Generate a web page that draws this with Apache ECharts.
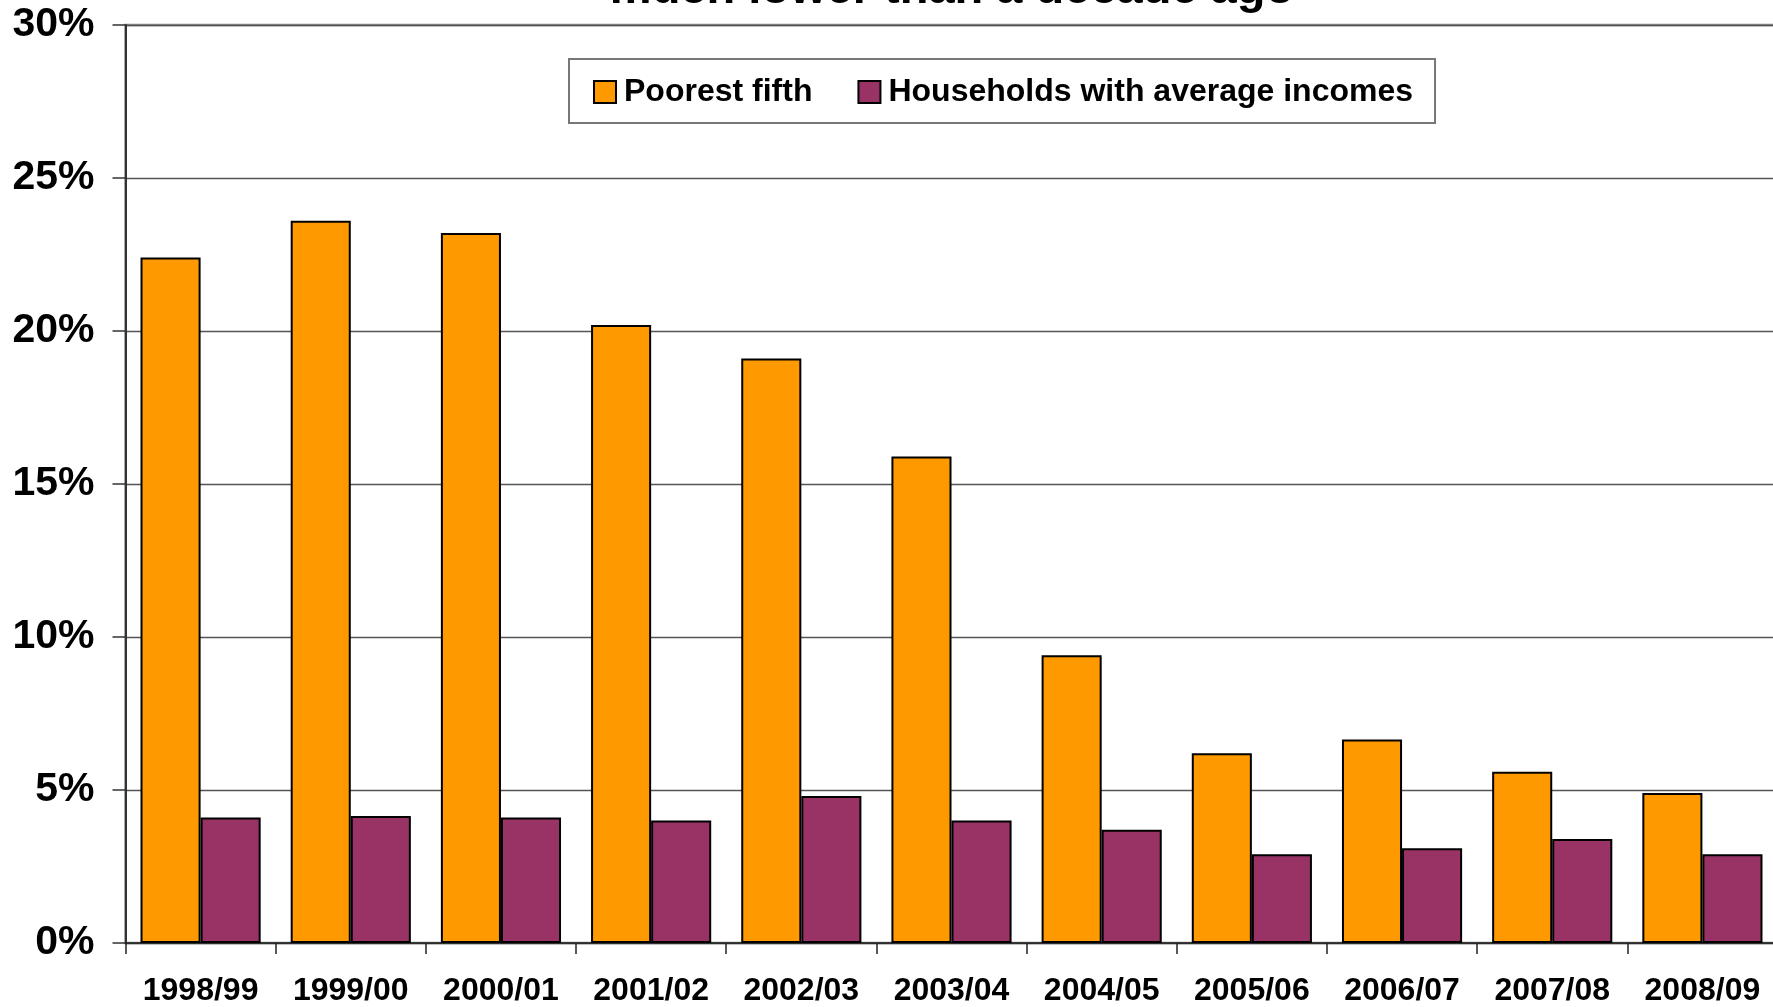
<!DOCTYPE html>
<html>
<head>
<meta charset="utf-8">
<script src="https://cdn.jsdelivr.net/npm/echarts@6/dist/echarts.min.js"></script>
<style>
html,body{margin:0;padding:0;background:#fff;}
#chart{width:1773px;height:1007px;}
</style>
</head>
<body>
<div id="chart"></div>
<script>
const categories = ['1998/99','1999/00','2000/01','2001/02','2002/03','2003/04','2004/05','2005/06','2006/07','2007/08','2008/09'];
const poorestFifth = [22.4, 23.6, 23.2, 20.2, 19.1, 15.9, 9.4, 6.2, 6.65, 5.6, 4.9];
const averageIncomes = [4.1, 4.15, 4.1, 4.0, 4.8, 4.0, 3.7, 2.9, 3.1, 3.4, 2.9];
const seriesNames = ['Poorest fifth', 'Households with average incomes'];
const titleText = 'much lower than a decade ago';

const FONT = '"Liberation Sans", Arial, sans-serif';
const chart = echarts.init(document.getElementById('chart'), null, {renderer: 'canvas'});
chart.setOption({
  animation: false,
  backgroundColor: '#ffffff',
  title: {
    text: titleText,
    left: 947,
    textAlign: 'center',
    top: -38,
    textStyle: {fontFamily: FONT, fontWeight: 'bold', fontSize: 47, color: '#000'}
  },
  legend: {
    data: seriesNames,
    left: 569,
    top: 59,
    padding: [17, 22, 15, 24],
    itemGap: 45,
    itemWidth: 22,
    itemHeight: 22,
    borderColor: '#777',
    borderWidth: 2,
    icon: 'rect',
    textStyle: {fontFamily: FONT, fontWeight: 'bold', fontSize: 32, color: '#000', padding: [3,0,0,3]}
  },
  grid: {
    left: 125.5,
    width: 1652,
    top: 25,
    bottom: 64,
    outerBoundsMode: 'none',
    containLabel: false,
    show: true,
    borderColor: '#8a8a8a',
    borderWidth: 2.5,
    backgroundColor: 'transparent'
  },
  xAxis: {
    type: 'category',
    data: categories,
    axisLine: {lineStyle: {color: '#222', width: 1.5}},
    axisTick: {show: true, length: 11, lineStyle: {color: '#222', width: 1.5}},
    axisLabel: {fontFamily: FONT, fontWeight: 'bold', fontSize: 32, color: '#000', margin: 32, interval: 0}
  },
  yAxis: {
    type: 'value',
    min: 0,
    max: 30,
    interval: 5,
    axisLine: {show: true, lineStyle: {color: '#333', width: 2}},
    axisTick: {show: true, inside: false, length: 13, lineStyle: {color: '#333', width: 1.5}},
    axisLabel: {fontFamily: FONT, fontWeight: 'bold', fontSize: 41, color: '#000', margin: 31,
      formatter: v => v + '%'},
    splitLine: {show: true, lineStyle: {color: '#555', width: 1.3}}
  },
  series: [
    {
      name: seriesNames[0],
      type: 'bar',
      data: poorestFifth,
      barGap: '0%',
      barCategoryGap: '20%',
      itemStyle: {color: '#FF9900', borderColor: '#000', borderWidth: 2}
    },
    {
      name: seriesNames[1],
      type: 'bar',
      data: averageIncomes,
      barGap: '0%',
      barCategoryGap: '20%',
      itemStyle: {color: '#993366', borderColor: '#000', borderWidth: 2}
    }
  ]
});
</script>
</body>
</html>
